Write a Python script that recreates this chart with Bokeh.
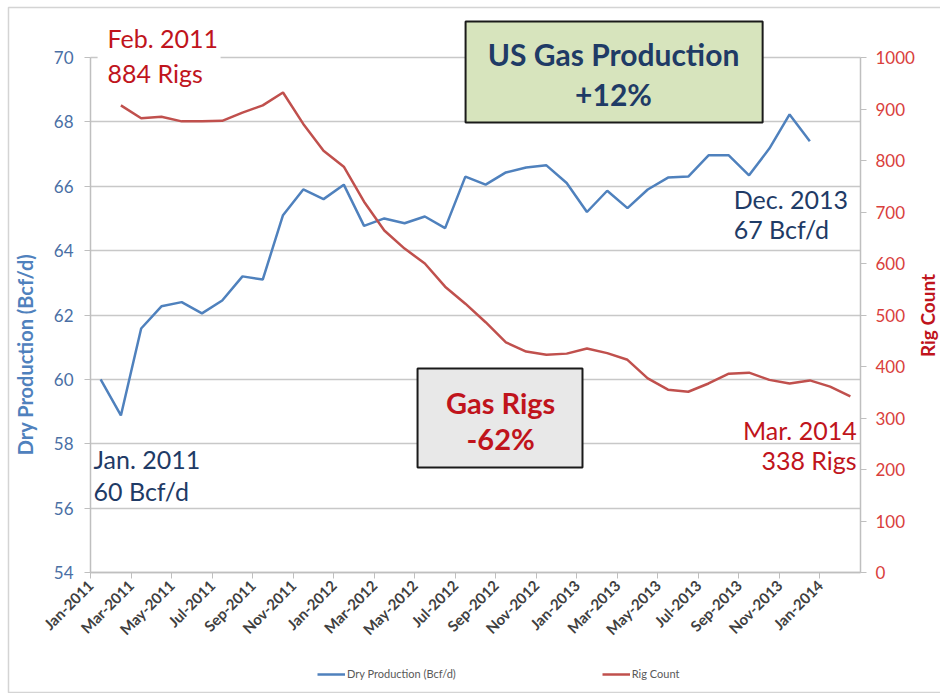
import math
from bokeh.plotting import figure
from bokeh.models import (LinearAxis, Range1d, FixedTicker, Label, BoxAnnotation,
                          Legend, LegendItem, ColumnDataSource)
from bokeh.embed import file_html
from bokeh.resources import INLINE

# ---------------- data ----------------
# month index 0 = Jan-2011 ; points sit in the middle of their month
blue_start_month = 0   # Jan-2011
dry_production = [60.0, 58.88, 61.58, 62.27, 62.4, 62.05, 62.45, 63.2, 63.1, 65.1, 65.9, 65.6,
                  66.05, 64.77, 65.0, 64.85, 65.06, 64.7, 66.3, 66.05, 66.43, 66.58, 66.65, 66.1,
                  65.2, 65.86, 65.32, 65.9, 66.27, 66.3, 66.96, 66.96, 66.34, 67.17, 68.23, 67.4]
red_start_month = 1    # Feb-2011
rig_count = [907, 882, 885, 876, 876, 877, 893, 907, 932, 871, 819,
             788, 720, 664, 629, 600, 555, 522, 486, 447, 429, 423, 425,
             435, 426, 413, 377, 355, 351, 367, 386, 388, 374, 367, 373,
             361, 342]
x_tick_months = [0, 2, 4, 6, 8, 10, 12, 14, 16, 18, 20, 22, 24, 26, 28, 30, 32, 34, 36]
x_tick_labels = ["Jan-2011", "Mar-2011", "May-2011", "Jul-2011", "Sep-2011", "Nov-2011",
                 "Jan-2012", "Mar-2012", "May-2012", "Jul-2012", "Sep-2012", "Nov-2012",
                 "Jan-2013", "Mar-2013", "May-2013", "Jul-2013", "Sep-2013", "Nov-2013",
                 "Jan-2014"]
left_ticks = [54, 56, 58, 60, 62, 64, 66, 68, 70]
right_ticks = [0, 100, 200, 300, 400, 500, 600, 700, 800, 900, 1000]

blue_src = ColumnDataSource(dict(x=[blue_start_month + i + 0.5 for i in range(len(dry_production))],
                                 y=dry_production))
red_src = ColumnDataSource(dict(x=[red_start_month + i + 0.5 for i in range(len(rig_count))],
                                y=rig_count))

# ---------------- styles ----------------
FONT = "Lato"
BLUE_LINE = "#4F81BD"
RED_LINE = "#C0504D"
NAVY = "#1F3B66"
RED_TEXT = "#C0141C"
AXIS_GRAY = "#BFBFBF"

X_MIN, X_MAX = 0, 38          # plotted month span (axis extent)
Y_MIN, Y_MAX = 54, 70         # dry production axis extent
R_MIN, R_MAX = 0, 1000        # rig count axis extent

# The frame covers the whole page; the three axes are pinned at the edges of the
# plotted span so that titles, call-outs and the legend can sit around them.
p = figure(width=940, height=693, output_backend="svg", toolbar_location=None,
           x_range=Range1d(-4.4416, 41.948), y_range=Range1d(50.241, 71.771),
           min_border=0)
p.outline_line_color = None
p.background_fill_color = "white"
p.border_fill_color = "white"
p.extra_y_ranges = {"rigs": Range1d(-234.95, 1110.68)}

# outer chart border
p.add_layout(BoxAnnotation(left=-4.047, right=43.0, top=71.553, bottom=50.272,
                           fill_alpha=0, line_color="#D4D4D4", line_alpha=1, line_width=1.5))

# grid
p.xgrid.grid_line_color = None
g = p.ygrid[0]
g.ticker = FixedTicker(ticks=left_ticks)
if "cross_bounds" in g.properties():
    g.cross_bounds = (X_MIN, X_MAX)
    g.grid_line_color = "#C8C8C8"
    g.grid_line_width = 1.5
else:
    g.grid_line_color = None
    p.segment(x0=X_MIN, x1=X_MAX, y0=left_ticks, y1=left_ticks,
              line_color="#C8C8C8", line_width=1.5)

def style_axis(ax, label_size, label_color, standoff, bold=False):
    ax.axis_line_color = AXIS_GRAY
    ax.axis_line_width = 1.5
    ax.major_tick_line_color = AXIS_GRAY
    ax.major_tick_out = 6
    ax.major_tick_in = 0
    ax.minor_tick_line_color = None
    ax.major_label_standoff = standoff
    ax.major_label_text_font = FONT
    ax.major_label_text_font_size = label_size
    ax.major_label_text_color = label_color
    if bold:
        ax.major_label_text_font_style = "bold"

# left axis
ya = p.yaxis[0]
ya.ticker = FixedTicker(ticks=left_ticks)
ya.bounds = (Y_MIN, Y_MAX)
ya.fixed_location = X_MIN
style_axis(ya, "17px", "#4A6FA5", 11)

# bottom axis
xa = p.xaxis[0]
xa.ticker = FixedTicker(ticks=x_tick_months)
xa.major_label_overrides = {m: lab for m, lab in zip(x_tick_months, x_tick_labels)}
xa.major_label_orientation = math.pi / 4
xa.bounds = (X_MIN, X_MAX)
xa.fixed_location = Y_MIN
style_axis(xa, "15px", "#404040", 4, bold=True)

# right axis
ra = LinearAxis(y_range_name="rigs", ticker=FixedTicker(ticks=right_ticks),
                bounds=(R_MIN, R_MAX), fixed_location=X_MAX)
style_axis(ra, "17px", "#D9403C", 9)
p.add_layout(ra, "right")

# series
r_blue = p.line("x", "y", source=blue_src, line_color=BLUE_LINE, line_width=2.5)
r_red = p.line("x", "y", source=red_src, line_color=RED_LINE, line_width=2.5, y_range_name="rigs")

legend = Legend(items=[LegendItem(label="Dry Production (Bcf/d)", renderers=[r_blue]),
                       LegendItem(label="Rig Count", renderers=[r_red])],
                orientation="horizontal", location=(317, 13),
                background_fill_alpha=0, border_line_color=None,
                label_text_font=FONT, label_text_font_size="11px", label_text_color="#595959",
                glyph_width=28, glyph_height=10, label_standoff=2, spacing=146, padding=2, margin=0)
p.add_layout(legend, "center")

def txt(x, y, s, color, align="left", size="25px", style="normal", angle=0.0):
    p.add_layout(Label(x=x, y=y, text=s, text_align=align, text_baseline="middle",
                       text_font=FONT, text_font_size=size, text_font_style=style,
                       text_color=color, angle=angle))

# axis titles
txt(-3.208, 60.773, "Dry Production (Bcf/d)", BLUE_LINE, align="center", size="20px",
    style="bold", angle=math.pi / 2)
txt(41.3, 61.985, "Rig Count", RED_TEXT, align="center", size="19px",
    style="bold", angle=math.pi / 2)

# white background behind Feb label
p.add_layout(BoxAnnotation(left=0.35, right=6.42, top=71.0, bottom=69.05,
                           fill_color="white", fill_alpha=1, line_color=None))

txt(0.84, 70.6, "Feb. 2011", RED_TEXT)
txt(0.84, 69.52, "884 Rigs", RED_TEXT)
txt(0.15, 57.53, "Jan. 2011", NAVY)
txt(0.15, 56.52, "60 Bcf/d", NAVY)
txt(31.74, 65.6, "Dec. 2013", NAVY)
txt(31.74, 64.66, "67 Bcf/d", NAVY)
txt(37.81, 58.44, "Mar. 2014", RED_TEXT, align="right")
txt(37.81, 57.48, "338 Rigs", RED_TEXT, align="right")

# callout boxes
p.add_layout(BoxAnnotation(left=18.51, right=33.17, top=71.12, bottom=67.98,
                           fill_color="#D7E4BD", fill_alpha=1,
                           line_color="#1A1A1A", line_alpha=1, line_width=2))
txt(25.81, 70.12, "US Gas Production", NAVY, align="center", size="30px", style="bold")
txt(25.81, 68.88, "+12%", NAVY, align="center", size="30px", style="bold")

p.add_layout(BoxAnnotation(left=16.14, right=24.28, top=60.34, bottom=57.26,
                           fill_color="#E8E8E8", fill_alpha=1,
                           line_color="#1A1A1A", line_alpha=1, line_width=2))
txt(20.24, 59.28, "Gas Rigs", RED_TEXT, align="center", size="29px", style="bold")
txt(20.24, 58.16, "-62%", RED_TEXT, align="center", size="29px", style="bold")

open("out.html", "w").write(file_html(p, INLINE))
